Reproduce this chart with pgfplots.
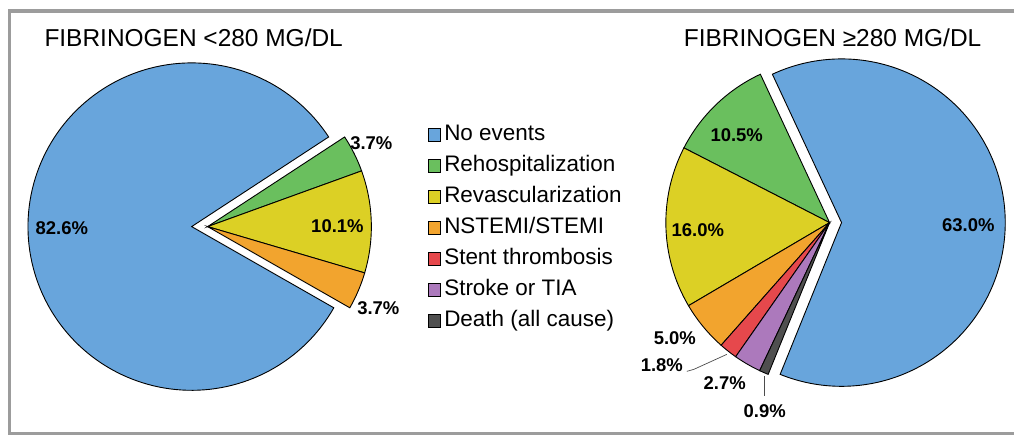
\documentclass[border=0pt]{standalone}
\usepackage{pgfplots}
\pgfplotsset{compat=1.18}
\usepackage{fontspec}
\setmainfont{Liberation Sans}

\definecolor{cblue}{HTML}{68A5DC}
\definecolor{cgreen}{HTML}{6ABF5E}
\definecolor{cyellow}{HTML}{DCD025}
\definecolor{corange}{HTML}{F2A42E}
\definecolor{cred}{HTML}{E6484C}
\definecolor{cpurple}{HTML}{AC79BC}
\definecolor{cdark}{HTML}{4F4F4F}
\definecolor{cframe}{HTML}{9C9C9C}

% ---- data (percent of patients) ----
% Fibrinogen < 280 mg/dL
\def\LNo{82.6}\def\LRehosp{3.7}\def\LRevasc{10.1}\def\LMI{3.7}
% Fibrinogen >= 280 mg/dL
\def\RNo{63.0}\def\RRehosp{10.5}\def\RRevasc{16.0}\def\RMI{5.0}
\def\RStent{1.8}\def\RStroke{2.7}\def\RDeath{0.9}

% ---- angles ----
\pgfmathsetmacro\Lsum{\LNo+\LRehosp+\LRevasc+\LMI}
\pgfmathsetmacro\LaA{33.2}
\pgfmathsetmacro\LaB{\LaA-\LRehosp/\Lsum*360}
\pgfmathsetmacro\LaC{\LaB-\LRevasc/\Lsum*360}
\pgfmathsetmacro\LaD{\LaC-\LMI/\Lsum*360}
\pgfmathsetmacro\LaE{\LaD+360}

\pgfmathsetmacro\Rsum{\RNo+\RRehosp+\RRevasc+\RMI+\RStent+\RStroke+\RDeath}
\pgfmathsetmacro\RaA{115}
\pgfmathsetmacro\RaB{\RaA+\RRehosp/\Rsum*360}
\pgfmathsetmacro\RaC{\RaB+\RRevasc/\Rsum*360}
\pgfmathsetmacro\RaD{\RaC+\RMI/\Rsum*360}
\pgfmathsetmacro\RaE{\RaD+\RStent/\Rsum*360}
\pgfmathsetmacro\RaF{\RaE+\RStroke/\Rsum*360}
\pgfmathsetmacro\RaG{\RaF+\RDeath/\Rsum*360}
\pgfmathsetmacro\RaH{\RaA+360}

\newcommand\titlefont{\fontsize{24.5}{29}\selectfont}
\newcommand\legfont{\fontsize{22.5}{27}\selectfont}
\newcommand\pctfont{\fontsize{18.5}{22}\selectfont\bfseries}

\begin{document}
\begin{tikzpicture}
\begin{axis}[
  width=1016pt, height=436pt, scale only axis,
  xmin=0, xmax=1016, ymin=0, ymax=436,
  hide axis, clip=false,
  wedge/.style={draw=black, line width=0.9pt, forget plot},
  legend image code/.code={\draw[#1, draw=black, line width=0.8pt] (0pt,-6.5pt) rectangle (13pt,6.5pt);},
  legend style={draw=none, fill=none, font=\legfont,
    at={(axis description cs:0.4213,0.7156)}, anchor=north west,
    inner sep=0pt, row sep=8.5pt,
    nodes={text height=16pt, text depth=4.5pt, inner ysep=1pt, inner xsep=3pt}},
  legend cell align=left,
]
\path (0,0) rectangle (1016,436);
% frame
\draw[cframe, line width=3.5pt] (1016,425) -- (9.5,425) -- (9.5,2) -- (1016,2);

% ---- left pie ----
\addplot[wedge, fill=cblue, domain=\LaA:\LaE, samples=150]
  ({192+164*cos(x)},{209+164*sin(x)}) -- (192,209) -- cycle;
\addplot[wedge, fill=cgreen, domain=\LaB:\LaA, samples=20]
  ({208+164*cos(x)},{209+164*sin(x)}) -- (208,209) -- cycle;
\addplot[wedge, fill=cyellow, domain=\LaC:\LaB, samples=40]
  ({208+164*cos(x)},{209+164*sin(x)}) -- (208,209) -- cycle;
\addplot[wedge, fill=corange, domain=\LaD:\LaC, samples=20]
  ({208+164*cos(x)},{209+164*sin(x)}) -- (208,209) -- cycle;

% ---- right pie ----
\addplot[wedge, fill=cblue, domain=\RaG:\RaH, samples=150]
  ({843+164*cos(x)},{213+164*sin(x)}) -- (843,213) -- cycle;
\addplot[wedge, fill=cgreen, domain=\RaA:\RaB, samples=40]
  ({831+164*cos(x)},{213+164*sin(x)}) -- (831,213) -- cycle;
\addplot[wedge, fill=cyellow, domain=\RaB:\RaC, samples=50]
  ({831+164*cos(x)},{213+164*sin(x)}) -- (831,213) -- cycle;
\addplot[wedge, fill=corange, domain=\RaC:\RaD, samples=20]
  ({831+164*cos(x)},{213+164*sin(x)}) -- (831,213) -- cycle;
\addplot[wedge, fill=cred, domain=\RaD:\RaE, samples=10]
  ({831+164*cos(x)},{213+164*sin(x)}) -- (831,213) -- cycle;
\addplot[wedge, fill=cpurple, domain=\RaE:\RaF, samples=12]
  ({831+164*cos(x)},{213+164*sin(x)}) -- (831,213) -- cycle;
\addplot[wedge, fill=cdark, domain=\RaF:\RaG, samples=6]
  ({831+164*cos(x)},{213+164*sin(x)}) -- (831,213) -- cycle;

% leader lines
\draw[black!70, line width=0.7pt] (688,64) -- (695,66) -- (728,81);
\draw[black!70, line width=0.7pt] (766,59) -- (766,39);

% titles
\node[font=\titlefont, anchor=base] at (194,389) {FIBRINOGEN <280 MG/DL};
\node[font=\titlefont, anchor=base] at (834,389) {FIBRINOGEN ≥280 MG/DL};

% percentages
\node[font=\pctfont, anchor=base] at (62,201) {\LNo\%};
\node[font=\pctfont, anchor=base] at (372,286) {\LRehosp\%};
\node[font=\pctfont, anchor=base] at (338,203) {\LRevasc\%};
\node[font=\pctfont, anchor=base] at (379,121) {\LMI\%};

\node[font=\pctfont, anchor=base] at (970,204) {\RNo\%};
\node[font=\pctfont, anchor=base] at (738,294) {\RRehosp\%};
\node[font=\pctfont, anchor=base] at (699,199) {\RRevasc\%};
\node[font=\pctfont, anchor=base] at (676,91) {\RMI\%};
\node[font=\pctfont, anchor=base] at (663,64) {\RStent\%};
\node[font=\pctfont, anchor=base] at (726,46) {\RStroke\%};
\node[font=\pctfont, anchor=base] at (766,18) {\RDeath\%};

% legend
\addlegendimage{fill=cblue}\addlegendentry{No events}
\addlegendimage{fill=cgreen}\addlegendentry{Rehospitalization}
\addlegendimage{fill=cyellow}\addlegendentry{Revascularization}
\addlegendimage{fill=corange}\addlegendentry{NSTEMI/STEMI}
\addlegendimage{fill=cred}\addlegendentry{Stent thrombosis}
\addlegendimage{fill=cpurple}\addlegendentry{Stroke or TIA}
\addlegendimage{fill=cdark}\addlegendentry{Death (all cause)}
\end{axis}
\end{tikzpicture}
\end{document}
